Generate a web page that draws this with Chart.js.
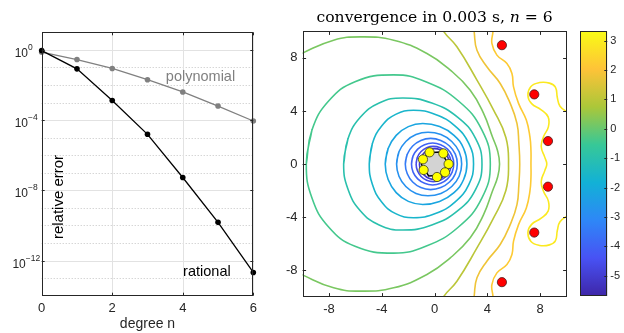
<!DOCTYPE html>
<html>
<head>
<meta charset="utf-8">
<script src="https://cdn.jsdelivr.net/npm/chart.js@4.4.1/dist/chart.umd.min.js"></script>
<style>
  html, body { margin: 0; padding: 0; background: #fff; }
  #wrap { position: relative; width: 624px; height: 333px; overflow: hidden; }
  canvas { position: absolute; top: 0; }
</style>
</head>
<body>
<div id="wrap">
  <canvas id="errChart" width="270" height="333" style="left:0"></canvas>
  <canvas id="contourChart" width="300" height="333" style="left:280px"></canvas>
  <canvas id="barChart" width="49" height="333" style="left:575px"></canvas>
</div>
<script>
// left panel: error vs degree
var degrees = [0, 1, 2, 3, 4, 5, 6];
var ratErr = [0.91, 0.083, 1.3e-3, 1.55e-5, 5.4e-8, 1.5e-10, 2.1e-13];
var polyErr = [0.74, 0.28, 0.087, 0.020, 4.0e-3, 6.3e-4, 8.9e-5];
var xTicks = [0, 2, 4, 6];
var yMajorExp = [-12, -8, -4, 0];

// right panel: contour lines (x,y pairs), one array per level
var levels = [0.2, -0.4, -1.0, -1.6, -2.2, -2.8, -3.4, -4.0, -4.6, -5.2, 1.0, 1.8, 2.2, 2.9];
var cGreen = [[-11.5,7.6],[-9.97,8.38],[-7.65,9.34],[-5.63,9.59],[-3.1,9.34],[-0.58,8.33],[1.19,7.08],[2.7,5.57],[3.71,3.82],[4.4,2.0],[4.77,1.0],[4.92,0],[4.77,-1.0],[4.4,-2.0],[3.71,-3.82],[2.7,-5.57],[1.19,-7.08],[-0.58,-8.33],[-3.1,-9.34],[-5.63,-9.59],[-7.65,-9.34],[-9.97,-8.38],[-11.5,-7.6]];
var c1 = [[-9.72,0],[-9.29,2.57],[-8.03,4.75],[-6.03,6.21],[-3.1,6.72],[-0.67,6.21],[1.81,4.75],[3.58,2.57],[4.22,0],[3.58,-2.57],[1.81,-4.75],[-0.67,-6.21],[-3.1,-6.72],[-6.03,-6.21],[-8.03,-4.75],[-9.29,-2.57],[-9.72,0],[-9.29,2.57]];
var c2 = [[-6.89,0],[-6.56,1.91],[-5.63,3.52],[-4.2,4.6],[-2.4,4.98],[-0.21,4.6],[1.76,3.52],[3.11,1.91],[3.59,0],[3.11,-1.91],[1.76,-3.52],[-0.21,-4.6],[-2.4,-4.98],[-4.2,-4.6],[-5.63,-3.52],[-6.56,-1.91],[-6.89,0],[-6.56,1.91]];
var c3 = [[-4.95,0],[-4.71,1.55],[-4.01,2.86],[-2.95,3.74],[-1.6,4.05],[0.06,3.74],[1.56,2.86],[2.59,1.55],[2.95,0],[2.59,-1.55],[1.56,-2.86],[0.06,-3.74],[-1.6,-4.05],[-2.95,-3.74],[-4.01,-2.86],[-4.71,-1.55],[-4.95,0],[-4.71,1.55]];
var c4 = [[-3.74,0],[-3.52,1.17],[-2.91,2.16],[-1.99,2.82],[-0.9,3.05],[0.38,2.82],[1.47,2.16],[2.2,1.17],[2.45,0],[2.2,-1.17],[1.47,-2.16],[0.38,-2.82],[-0.9,-3.05],[-1.99,-2.82],[-2.91,-2.16],[-3.52,-1.17],[-3.74,0],[-3.52,1.17]];
var c5 = [[-2.88,0],[-2.7,0.92],[-2.18,1.7],[-1.41,2.22],[-0.5,2.4],[0.48,2.22],[1.3,1.7],[1.86,0.92],[2.05,0],[1.86,-0.92],[1.3,-1.7],[0.48,-2.22],[-0.5,-2.4],[-1.41,-2.22],[-2.18,-1.7],[-2.7,-0.92],[-2.88,0],[-2.7,0.92]];
var c6 = [[-2.22,0],[-2.07,0.74],[-1.66,1.36],[-1.04,1.78],[-0.3,1.93],[0.47,1.78],[1.13,1.36],[1.57,0.74],[1.72,0],[1.57,-0.74],[1.13,-1.36],[0.47,-1.78],[-0.3,-1.93],[-1.04,-1.78],[-1.66,-1.36],[-2.07,-0.74],[-2.22,0],[-2.07,0.74]];
var c7 = [[-1.75,0],[-1.63,0.61],[-1.28,1.12],[-0.76,1.46],[-0.15,1.58],[0.46,1.46],[0.98,1.12],[1.33,0.61],[1.45,0],[1.33,-0.61],[0.98,-1.12],[0.46,-1.46],[-0.15,-1.58],[-0.76,-1.46],[-1.28,-1.12],[-1.63,-0.61],[-1.75,0],[-1.63,0.61]];
var c8 = [[-1.4,0],[-1.3,0.51],[-1.02,0.94],[-0.6,1.23],[-0.1,1.33],[0.42,1.23],[0.86,0.94],[1.16,0.51],[1.26,0],[1.16,-0.51],[0.86,-0.94],[0.42,-1.23],[-0.1,-1.33],[-0.6,-1.23],[-1.02,-0.94],[-1.3,-0.51],[-1.4,0],[-1.3,0.51]];
var c9 = [[-1.15,0],[-1.06,0.44],[-0.81,0.82],[-0.44,1.07],[0,1.16],[0.43,1.07],[0.79,0.82],[1.03,0.44],[1.12,0],[1.03,-0.44],[0.79,-0.82],[0.43,-1.07],[0,-1.16],[-0.44,-1.07],[-0.81,-0.82],[-1.06,-0.44],[-1.15,0],[-1.06,0.44]];
var cDiag = [[0.55,10.5],[0.68,10.0],[1.69,8.84],[3.21,6.33],[4.47,4.07],[5.4,2.0],[5.6,0],[5.4,-2.0],[4.47,-4.07],[3.21,-6.33],[1.69,-8.84],[0.68,-10.0],[0.55,-10.5]];
var cGold = [[2.98,10.5],[3.0,9.96],[3.21,8.58],[3.96,7.33],[4.97,6.07],[5.73,4.57],[6.24,3.06],[6.38,1.6],[6.45,0],[6.38,-1.6],[6.24,-3.06],[5.73,-4.57],[4.97,-6.07],[3.96,-7.33],[3.21,-8.58],[3.0,-9.96],[2.98,-10.5]];
var cOrange = [[4.45,10.5],[4.42,9.96],[4.34,9.09],[4.72,8.21],[5.48,7.58],[5.86,6.83],[5.98,5.82],[6.36,4.57],[6.95,3.31],[7.22,2.06],[7.3,1.0],[7.3,0],[7.3,-1.0],[7.22,-2.06],[6.95,-3.31],[6.36,-4.57],[5.98,-5.82],[5.86,-6.83],[5.48,-7.58],[4.72,-8.21],[4.34,-9.09],[4.42,-9.96],[4.45,-10.5]];
var cYellow = [[10.6,3.7],[10.03,3.94],[9.5,4.35],[9.3,5.0],[9.15,5.8],[8.7,6.1],[7.95,6.14],[7.3,5.85],[7.07,5.15],[7.35,4.55],[8.05,4.1],[8.6,3.55],[8.62,2.8],[8.25,2.06],[8.08,1.3],[8.35,0.5],[8.5,0],[8.35,-0.5],[8.08,-1.3],[8.25,-2.06],[8.62,-2.8],[8.6,-3.55],[8.05,-4.1],[7.35,-4.55],[7.07,-5.15],[7.3,-5.85],[7.95,-6.14],[8.7,-6.1],[9.15,-5.8],[9.3,-5.0],[9.5,-4.35],[10.03,-3.94],[10.6,-3.7]];
var contourLines = [cGreen, c1, c2, c3, c4, c5, c6, c7, c8, c9, cDiag, cGold, cOrange, cYellow];

var poleX = [5.1, 7.55, 8.59, 8.59, 7.55, 5.1];
var poleY = [8.96, 5.25, 1.73, -1.71, -5.17, -8.91];
var supX = [-0.38, 0.66, 1.06, 0.79, 0.18, -0.83, -0.88];
var supY = [0.88, 0.80, 0, -0.63, -0.98, -0.45, 0.35];
var hexX = [1.0, 0.45, -0.55, -1.0, -0.45, 0.55, 1.0];
var hexY = [0.1, 0.9, 0.85, -0.05, -0.9, -0.85, 0.1];
var planeTicks = [-8, -4, 0, 4, 8];

// colorbar
var cbMin = -5.69, cbMax = 3.32;
var cbTicks = [-5, -4, -3, -2, -1, 0, 1, 2, 3];
var parulaRGB = [[62,38,168],[72,82,244],[46,135,247],[18,177,214],[55,200,151],[171,199,57],[254,195,56],[249,251,21]];

Chart.defaults.font.family = '"Liberation Sans", Arial, sans-serif';
Chart.defaults.color = '#262626';

function parula(v) {
  var t = (v - cbMin) / (cbMax - cbMin);
  t = Math.max(0, Math.min(1, t)) * (parulaRGB.length - 1);
  var i = Math.min(Math.floor(t), parulaRGB.length - 2), f = t - i;
  var a = parulaRGB[i], b = parulaRGB[i + 1];
  return 'rgb(' + [0, 1, 2].map(function(k) { return Math.round(a[k] + (b[k] - a[k]) * f); }).join(',') + ')';
}

function seg(ctx, x1, y1, x2, y2) {
  ctx.beginPath(); ctx.moveTo(x1, y1); ctx.lineTo(x2, y2); ctx.stroke();
}

function drawBox(ctx, a) {
  ctx.strokeStyle = '#262626';
  ctx.lineWidth = 1;
  var l = Math.round(a.left) + 0.5, t = Math.round(a.top) + 0.5;
  ctx.strokeRect(l, t, Math.round(a.right) - Math.round(a.left) - 1, Math.round(a.bottom) - Math.round(a.top) - 1);
}

var errDecor = {
  id: 'errDecor',
  beforeDatasetsDraw: function(chart) {
    var ctx = chart.ctx, a = chart.chartArea, x = chart.scales.x, y = chart.scales.y;
    ctx.save();
    ctx.lineWidth = 1;
    ctx.strokeStyle = '#c4c4c4';
    ctx.setLineDash([1, 2]);
    for (var e = -13; e <= 0; e++) {
      if (yMajorExp.indexOf(e) >= 0) continue;
      var py = Math.round(y.getPixelForValue(Math.pow(10, e))) + 0.5;
      seg(ctx, a.left, py, a.right, py);
    }
    ctx.setLineDash([]);
    ctx.strokeStyle = '#e2e2e2';
    yMajorExp.forEach(function(e) {
      var py = Math.round(y.getPixelForValue(Math.pow(10, e))) + 0.5;
      seg(ctx, a.left, py, a.right, py);
    });
    xTicks.forEach(function(v) {
      var px = Math.round(x.getPixelForValue(v)) + 0.5;
      seg(ctx, px, a.top, px, a.bottom);
    });
    ctx.restore();
  },
  afterDraw: function(chart) {
    var ctx = chart.ctx, a = chart.chartArea, x = chart.scales.x, y = chart.scales.y;
    ctx.save();
    drawBox(ctx, a);
    xTicks.forEach(function(v) {
      var px = Math.round(x.getPixelForValue(v)) + 0.5;
      seg(ctx, px, a.bottom, px, a.bottom - 3);
      seg(ctx, px, a.top, px, a.top + 3);
    });
    yMajorExp.forEach(function(e) {
      var py = Math.round(y.getPixelForValue(Math.pow(10, e))) + 0.5;
      seg(ctx, a.left, py, a.left + 3, py);
      seg(ctx, a.right, py, a.right - 3, py);
      // tick label 10^e
      ctx.fillStyle = '#262626';
      ctx.font = '8.5px "Liberation Sans"';
      var ex = String(e).replace('-', '\u2212');
      var ew = ctx.measureText(ex).width;
      var baseRight = Math.min(28, a.left - 1.5 - ew);
      ctx.textAlign = 'left';
      ctx.fillText(ex, baseRight, py - 0.5);
      ctx.font = '12px "Liberation Sans"';
      ctx.textAlign = 'right';
      ctx.fillText('10', baseRight, py + 6.5);
    });
    // series labels
    ctx.font = '14.5px "Liberation Sans"';
    ctx.textAlign = 'left';
    ctx.textBaseline = 'middle';
    ctx.fillStyle = '#808080';
    ctx.fillText('polynomial', x.getPixelForValue(3.52), y.getPixelForValue(Math.pow(10, -1.52)));
    ctx.fillStyle = '#000';
    ctx.fillText('rational', x.getPixelForValue(4.01), y.getPixelForValue(Math.pow(10, -12.65)));
    // y axis title, placed inside the axes as in the original
    ctx.translate(a.left + 17.5, 197);
    ctx.rotate(-Math.PI / 2);
    ctx.textAlign = 'center';
    ctx.font = '15px "Liberation Sans"';
    ctx.fillText('relative error', 0, 0);
    ctx.restore();
  }
};

new Chart(document.getElementById('errChart'), {
  type: 'scatter',
  data: {
    datasets: [
      {
        data: degrees.map(function(d, i) { return { x: d, y: ratErr[i] }; }),
        showLine: true, borderColor: '#000', backgroundColor: '#000',
        borderWidth: 1.3, pointRadius: 2.8, pointBorderWidth: 0, clip: false
      },
      {
        data: degrees.map(function(d, i) { return { x: d, y: polyErr[i] }; }),
        showLine: true, borderColor: '#808080', backgroundColor: '#808080',
        borderWidth: 1.3, pointRadius: 2.8, pointBorderWidth: 0, clip: false
      }
    ]
  },
  options: {
    responsive: false, animation: false, devicePixelRatio: 1,
    layout: { padding: { top: 32.3, right: 16.7, left: 0, bottom: 0 } },
    plugins: { legend: { display: false }, tooltip: { enabled: false } },
    scales: {
      x: {
        type: 'linear', min: 0, max: 6,
        afterBuildTicks: function(s) { s.ticks = xTicks.map(function(v) { return { value: v }; }); },
        afterFit: function(s) { s.height = 37.3; },
        grid: { display: false, drawTicks: false }, border: { display: false },
        ticks: { font: { size: 13 }, padding: 5 },
        title: { display: true, text: 'degree n', font: { size: 14 }, padding: { top: -5, bottom: 0 } }
      },
      y: {
        type: 'logarithmic', min: 1e-14, max: 10,
        afterBuildTicks: function(s) { s.ticks = yMajorExp.map(function(e) { return { value: Math.pow(10, e) }; }); },
        afterFit: function(s) { s.width = 41.7; },
        grid: { display: false, drawTicks: false }, border: { display: false },
        ticks: { display: false }
      }
    }
  },
  plugins: [errDecor]
});

var planeDecor = {
  id: 'planeDecor',
  afterDraw: function(chart) {
    var ctx = chart.ctx, a = chart.chartArea, x = chart.scales.x, y = chart.scales.y;
    ctx.save();
    drawBox(ctx, a);
    planeTicks.forEach(function(v) {
      var px = Math.round(x.getPixelForValue(v)) + 0.5;
      seg(ctx, px, a.bottom, px, a.bottom - 3.5);
      seg(ctx, px, a.top, px, a.top + 3.5);
      var py = Math.round(y.getPixelForValue(v)) + 0.5;
      seg(ctx, a.left, py, a.left + 3.5, py);
      seg(ctx, a.right, py, a.right - 3.5, py);
    });
    // title with italic n
    var parts = [['convergence in 0.003 s, ', ''], ['n', 'italic '], [' = 6', '']];
    var total = 0;
    parts.forEach(function(p) {
      ctx.font = p[1] + '15.6px "DejaVu Serif"';
      p.w = ctx.measureText(p[0]).width;
      total += p.w;
    });
    var tx = (a.left + a.right) / 2 - total / 2;
    ctx.fillStyle = '#000';
    ctx.textAlign = 'left';
    ctx.textBaseline = 'alphabetic';
    parts.forEach(function(p) {
      ctx.font = p[1] + '15.6px "DejaVu Serif"';
      ctx.fillText(p[0], tx, 22);
      tx += p.w;
    });
    ctx.restore();
  }
};

// contour lines drawn as smoothed line datasets on the linear x/y scales
var contourDatasets = contourLines.map(function(line, i) {
  return {
    type: 'line',
    data: line.map(function(p) { return { x: p[0], y: p[1] }; }),
    borderColor: parula(levels[i]), backgroundColor: parula(levels[i]), borderWidth: 1.6,
    pointRadius: 0, tension: 0.45, cubicInterpolationMode: 'default', capBezierPoints: false,
    fill: false, spanGaps: true, order: 2
  };
});

new Chart(document.getElementById('contourChart'), {
  type: 'scatter',
  data: {
    datasets: [
      {
        data: poleX.map(function(v, i) { return { x: v, y: poleY[i] }; }),
        backgroundColor: '#ff0000', borderColor: '#4a1a1a', pointRadius: 4.6, pointBorderWidth: 0.8,
        clip: false, order: 0
      },
      {
        data: supX.map(function(v, i) { return { x: v, y: supY[i] }; }),
        backgroundColor: '#ffff00', borderColor: '#3a3a1a', pointRadius: 4.6, pointBorderWidth: 0.8,
        clip: false, order: 0
      },
      {
        data: hexX.map(function(v, i) { return { x: v, y: hexY[i] }; }),
        showLine: true, fill: 'shape', backgroundColor: '#d3d3d3', borderColor: '#000',
        borderWidth: 1.4, pointRadius: 0, tension: 0, order: 1
      }
    ].concat(contourDatasets)
  },
  options: {
    responsive: false, animation: false, devicePixelRatio: 1,
    layout: { padding: { top: 31.4, right: 13.4, left: 0, bottom: 0 } },
    plugins: { legend: { display: false }, tooltip: { enabled: false } },
    scales: {
      x: {
        type: 'linear', min: -10, max: 10,
        afterBuildTicks: function(s) { s.ticks = planeTicks.map(function(v) { return { value: v }; }); },
        afterFit: function(s) { s.height = 36.4; },
        grid: { display: false, drawTicks: false }, border: { display: false },
        ticks: { font: { size: 13 }, padding: 5 }
      },
      y: {
        type: 'linear', min: -10, max: 10,
        afterBuildTicks: function(s) { s.ticks = planeTicks.map(function(v) { return { value: v }; }); },
        afterFit: function(s) { s.width = 22.6; },
        grid: { display: false, drawTicks: false }, border: { display: false },
        ticks: { font: { size: 13 }, padding: 5 }
      }
    }
  },
  plugins: [planeDecor]
});

var cbDecor = {
  id: 'cbDecor',
  afterDraw: function(chart) {
    var ctx = chart.ctx, a = chart.chartArea, y = chart.scales.y;
    ctx.save();
    drawBox(ctx, a);
    cbTicks.forEach(function(v) {
      var py = Math.round(y.getPixelForValue(v)) + 0.5;
      seg(ctx, a.right, py, a.right - 3, py);
    });
    ctx.restore();
  }
};

new Chart(document.getElementById('barChart'), {
  type: 'bar',
  data: {
    labels: [''],
    datasets: [{
      data: [[cbMin, cbMax]],
      backgroundColor: function(c) {
        var a = c.chart.chartArea;
        if (!a) return parula(0);
        var g = c.chart.ctx.createLinearGradient(0, a.bottom, 0, a.top);
        parulaRGB.forEach(function(rgb, i) {
          g.addColorStop(i / (parulaRGB.length - 1), 'rgb(' + rgb.join(',') + ')');
        });
        return g;
      },
      barPercentage: 1, categoryPercentage: 1, borderWidth: 0
    }]
  },
  options: {
    responsive: false, animation: false, devicePixelRatio: 1,
    layout: { padding: { top: 31.3, left: 5.3, bottom: 37, right: 0 } },
    plugins: { legend: { display: false }, tooltip: { enabled: false } },
    scales: {
      x: { display: false },
      y: {
        position: 'right', min: cbMin, max: cbMax,
        afterBuildTicks: function(s) { s.ticks = cbTicks.map(function(v) { return { value: v }; }); },
        afterFit: function(s) { s.height = undefined; s.width = 16.7; },
        grid: { display: false, drawTicks: false }, border: { display: false },
        ticks: { font: { size: 11 }, padding: 3 }
      }
    }
  },
  plugins: [cbDecor]
});
</script>
</body>
</html>
